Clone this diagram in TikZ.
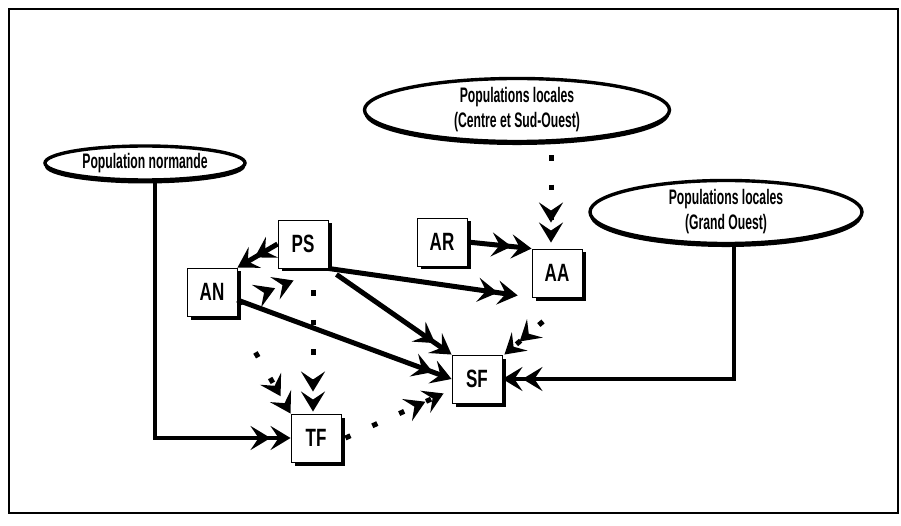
\documentclass[tikz,border=0pt]{standalone}
\usepackage{fontspec}
\setmainfont[FakeStretch=0.58]{Liberation Sans}
\newfontfamily\lblfont[FakeStretch=0.68]{Liberation Sans}
\usetikzlibrary{arrows.meta,positioning,shapes.geometric,shadows}
\tikzset{
  popnode/.style={ellipse, draw, line width=3.4pt, fill=white, inner sep=0pt, align=center,
    font=\fontsize{21}{25}\selectfont\bfseries,
    drop shadow={shadow xshift=0pt, shadow yshift=-3.5pt, fill=black, opacity=1}},
  grpbox/.style={draw, line width=0.9pt, fill=white, minimum width=50pt, minimum height=48pt,
    font=\lblfont\fontsize{25}{25}\selectfont\bfseries,
    drop shadow={shadow xshift=3.5pt, shadow yshift=-3.5pt, fill=black, opacity=1}},
  flow/.style={line width=5pt, -{Stealth[length=20pt,width=24pt,inset=8pt] Stealth[length=20pt,width=24pt,inset=8pt]}},
  feed/.style={flow, line width=4.5pt},
  weak/.style={flow, dash pattern=on 5.5pt off 24pt},
}
\begin{document}
\begin{tikzpicture}[x=1pt, y=-1pt]
  \useasboundingbox (0,0) rectangle (901,526);
  \draw[line width=2.5pt] (9,9) rectangle (898,513);
  % source populations
  \node[popnode, minimum width=200pt, minimum height=34pt] (norm) at (145,163) {Population normande};
  \node[popnode, minimum width=305pt, minimum height=60pt] (centre) at (517,110) {Populations locales\\(Centre et Sud-Ouest)};
  \node[popnode, minimum width=272pt, minimum height=57pt] (grand) at (726,212) {Populations locales\\(Grand Ouest)};
  % groups
  \node[grpbox] (ps) at (303,244) {PS};
  \node[grpbox] (an) at (212,292) {AN};
  \node[grpbox] (ar) at (442,242) {AR};
  \node[grpbox] (aa) at (557,273) {AA};
  \node[grpbox] (sf) at (477,379) {SF};
  \node[grpbox] (tf) at (316,438) {TF};
  % contributions of the source populations
  \draw[feed] ([xshift=10pt]norm.south) |- (tf);
  \draw[feed] ([xshift=8pt]grand.south) |- (sf);
  \draw[weak] (centre.south -| aa.north) ++(-6,12) -- ([xshift=-6pt, yshift=6pt]aa.north);
  % strong links
  \draw[flow] (ar.east) -- (aa.north west);
  \draw[flow] (ps.west) -- (an.north east);
  \draw[flow, shorten >=14pt] (ps.south east) -- (aa.south west);
  \draw[flow] ([xshift=8pt, yshift=-6pt]ps.south east) -- (sf.north west);
  \draw[flow] ([yshift=-8pt]an.east) -- (sf.west);
  % weak links
  \draw[weak] ([yshift=-12pt]an.east) -- ([xshift=16pt, yshift=-12pt]ps.south west);
  \draw[weak] (an.south east) ++(18,36) -- (tf.north west);
  \draw[weak] (ps.south) ++(10,22) -- ([xshift=-3pt, yshift=2pt]tf.north);
  \draw[weak] (tf.east) ++(4,0) -- ([xshift=-8pt, yshift=10pt]sf.south west);
  \draw[weak] ([xshift=-14pt]aa.south) ++(0,24) -- ([xshift=2pt]sf.north east);
\end{tikzpicture}
\end{document}
